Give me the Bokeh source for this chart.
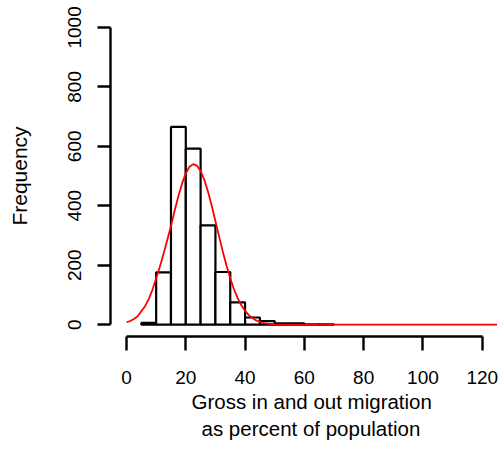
from bokeh.plotting import figure
from bokeh.models import Range1d, FixedTicker, Title
from bokeh.embed import file_html
from bokeh.resources import INLINE

# Histogram bins (left/right edges) and counts
bin_left = [5, 10, 15, 20, 25, 30, 35, 40, 45, 50, 55, 60, 65]
bin_right = [10, 15, 20, 25, 30, 35, 40, 45, 50, 55, 60, 65, 70]
counts = [6, 176, 665, 592, 334, 177, 75, 24, 12, 4, 4, 1, 1]

# Red fitted curve
curve_x = [0, 1.25, 2.5, 3.75, 5, 6.25, 7.5, 8.75, 10, 11.25, 12.5, 13.75, 15,
           16.25, 17.5, 18.75, 20, 21.25, 22.5, 23.75, 25, 26.25, 27.5, 28.75,
           30, 31.25, 32.5, 33.75, 35, 36.25, 37.5, 38.75, 40, 41.25, 42.5,
           43.75, 45, 46.25, 47.5, 50, 55, 60, 70, 80, 100, 125]
curve_y = [8, 12, 19, 28, 45, 62, 86, 117, 156, 195, 238, 285, 332,
           384, 432, 475, 509, 531, 540, 535, 517, 487, 447, 400,
           348, 296, 245, 198, 156, 119, 89, 65, 46, 32, 22,
           14, 9, 5, 3, 1, 0, 0, 0, 0, 0, 0]

x_ticks = [0, 20, 40, 60, 80, 100, 120]
y_ticks = [0, 200, 400, 600, 800, 1000]

FONT = "Liberation Sans"

p = figure(width=501, height=450, output_backend="svg", toolbar_location=None,
           x_range=Range1d(-5.4, 126.5), y_range=Range1d(-40, 1040),
           min_border_left=110, min_border_right=0, min_border_top=15,
           min_border_bottom=114)
p.outline_line_color = None
p.xgrid.visible = False
p.ygrid.visible = False
p.background_fill_color = "white"
p.border_fill_color = "white"

p.quad(left=bin_left, right=bin_right, top=counts, bottom=0,
       fill_color="white", line_color="black", line_width=2.2)
p.line(curve_x, curve_y, line_color="#ff0000", line_width=1.8)

for ax in (p.xaxis[0], p.yaxis[0]):
    ax.axis_line_width = 2.4
    ax.major_tick_line_width = 2.4
    ax.minor_tick_line_color = None
    ax.major_tick_in = 0
    ax.major_label_text_font = FONT
    ax.major_label_text_font_size = "19px"
    ax.major_label_text_color = "black"
    ax.axis_label_text_font = FONT
    ax.axis_label_text_font_style = "normal"
    ax.axis_label_text_color = "black"

xa = p.xaxis[0]
xa.ticker = FixedTicker(ticks=x_ticks)
xa.bounds = (0, 120)
xa.major_tick_out = 14
xa.major_label_standoff = 20

ya = p.yaxis[0]
ya.ticker = FixedTicker(ticks=y_ticks)
ya.bounds = (0, 1000)
ya.major_tick_out = 13
ya.major_label_standoff = 16
ya.major_label_orientation = "vertical"
ya.axis_label = "Frequency"
ya.axis_label_text_font_size = "21px"
ya.axis_label_standoff = 35

# x-axis title, two centred lines
for txt, off in (("Gross in and out migration", 81), ("as percent of population", 91)):
    p.add_layout(Title(text=txt, align="left", offset=off, standoff=2,
                       text_font=FONT, text_font_size="20.5px",
                       text_font_style="normal", text_color="black"), "below")

open("out.html", "w").write(file_html(p, INLINE))
